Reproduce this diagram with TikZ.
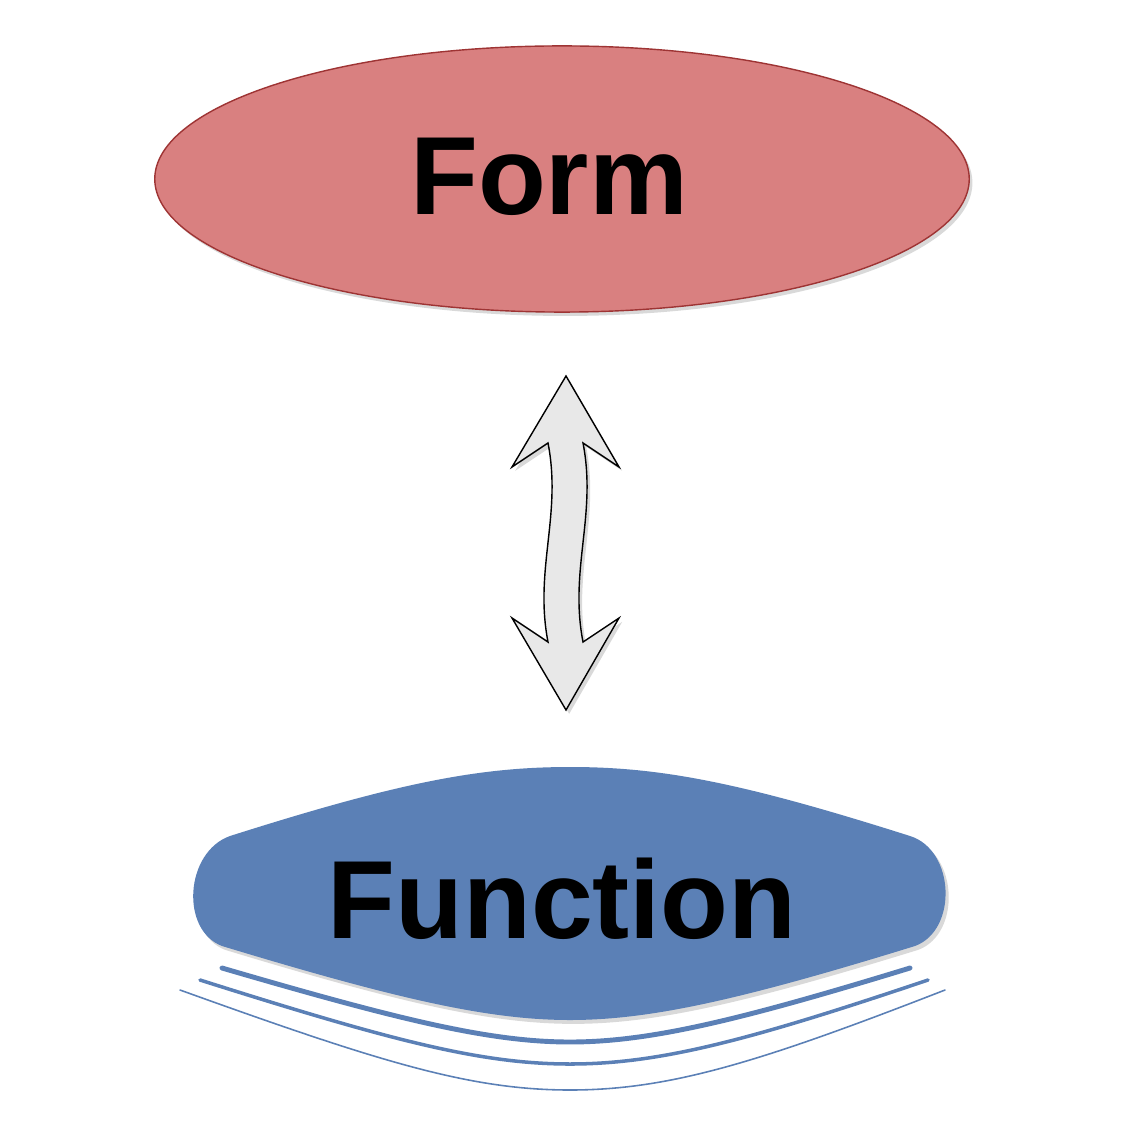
\documentclass[tikz,border=0pt]{standalone}
\usepackage{fontspec}
\setmainfont{Liberation Sans}
\usetikzlibrary{shapes.geometric,shadows,positioning,calc}
\definecolor{formfill}{HTML}{D98080}
\definecolor{formline}{HTML}{9E3434}
\definecolor{funcfill}{HTML}{5B80B6}
\definecolor{arrowfill}{HTML}{E8E8E8}

\begin{document}
\begin{tikzpicture}[x=0.01cm,y=-0.01cm,
  softshadow/.style={drop shadow={shadow xshift=0.9pt,shadow yshift=-1.1pt,opacity=0.15,fill=black}},
  bigtext/.style={font=\fontsize{31.6}{38}\selectfont\bfseries},
  formnode/.style={ellipse,draw=formline,thin,fill=formfill,
    minimum width=8.14cm,minimum height=2.66cm,softshadow},
  wave/.style={draw=funcfill,line cap=round},
]
  \useasboundingbox (0,0) rectangle (1125,1125);

  % form
  \node[formnode] (form) at (562,179) {};
  \node[bigtext] (formtext) at (549,177) {Form};

  % function blob and its wave lines
  \fill[funcfill,softshadow] (230,836) .. controls (400,782) and (480,767) .. (570,767)
    .. controls (660,767) and (740,782) .. (910,836)
    .. controls (955,850) and (958,930) .. (915,946)
    .. controls (740,1000) and (650,1020) .. (570,1020)
    .. controls (490,1020) and (400,1000) .. (222,946)
    .. controls (180,930) and (185,852) .. cycle;
  \node[bigtext] (function) at (562,899) {Function};

  \draw[wave,line width=1.4pt] (222,968) .. controls (400,1020) and (490,1042) .. (570,1042)
    .. controls (650,1042) and (740,1020) .. (910,968);
  \draw[wave,line width=1pt] (200,980) .. controls (390,1040) and (480,1064) .. (570,1064)
    .. controls (660,1064) and (750,1040) .. (928,980);
  \draw[wave,line width=0.45pt] (180,990) .. controls (380,1062) and (470,1090) .. (570,1090)
    .. controls (670,1090) and (760,1062) .. (945,990);

  % double block arrow
  \filldraw[fill=arrowfill,draw=black,thin,line join=miter,softshadow]
    (566,376) -- (619,467) -- (583,443)
    .. controls (597,515) and (569,570) .. (583,642)
    -- (619,618) -- (566,710) -- (512,618) -- (548,642)
    .. controls (534,570) and (562,515) .. (548,443)
    -- (512,467) -- cycle;
\end{tikzpicture}
\end{document}
